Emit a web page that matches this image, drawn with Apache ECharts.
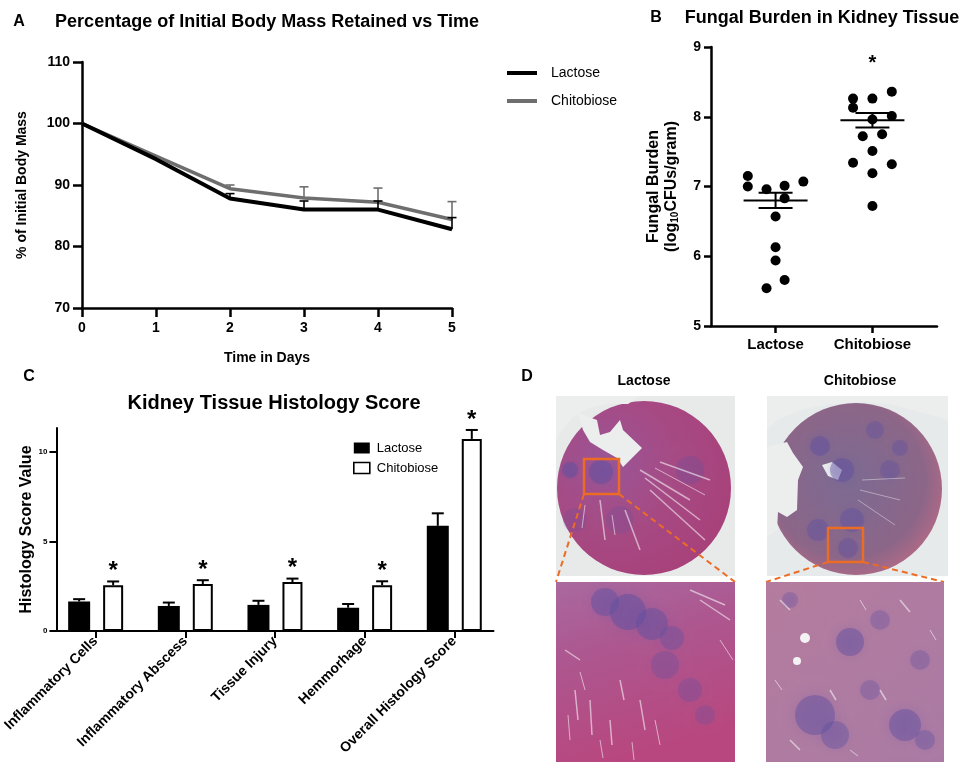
<!DOCTYPE html>
<html><head><meta charset="utf-8">
<script src="https://cdn.jsdelivr.net/npm/echarts@6/dist/echarts.min.js"></script>
<style>html,body{margin:0;padding:0;background:#fff}#c{width:968px;height:763px}</style>
</head><body><div id="c"></div>
<script>
const FONT = '"Liberation Sans", Arial, Helvetica, sans-serif';

// ---- Panel A: body mass over time ----
const days = [0, 1, 2, 3, 4, 5];
const massLactose = [100, 94.2, 87.8, 86.0, 86.0, 82.8];
const massChitobiose = [100, 94.7, 89.4, 87.9, 87.2, 84.4];
const massLactoseUpper = [null, null, 88.6, 87.4, 87.4, 84.7];
const massChitobioseUpper = [null, null, 90.0, 89.7, 89.5, 87.3];

// ---- Panel B: fungal burden ----
const burdenGroups = ['Lactose', 'Chitobiose'];
const burdenGroupPos = [2, 5];
const burdenLactose = [7.15, 7.00, 6.96, 7.01, 7.07, 6.83, 6.57, 6.13, 5.94, 5.66, 5.54];
const burdenLactoseJitter = [-0.86, -0.86, -0.28, 0.28, 0.86, 0.28, 0, 0, 0, 0.28, -0.28];
const burdenChitobiose = [8.26, 8.26, 8.36, 8.13, 7.96, 8.01, 7.72, 7.75, 7.51, 7.34, 7.32, 7.19, 6.72];
const burdenChitobioseJitter = [-0.6, 0, 0.6, -0.6, 0, 0.6, -0.3, 0.3, 0, -0.6, 0.6, 0, 0];
const burdenMean = [6.80, 7.95];
const burdenSem = [0.11, 0.105];
const burdenStarY = [8.82];

// ---- Panel C: histology score ----
const histCats = ['Inflammatory Cells', 'Inflammatory Abscess', 'Tissue Injury', 'Hemmorhage', 'Overall Histology Score'];
const histPos = [1, 2, 3, 4, 5];
const histLactose = [1.65, 1.40, 1.46, 1.30, 5.88];
const histLactoseErr = [1.78, 1.59, 1.69, 1.51, 6.58];
const histChitobiose = [2.56, 2.63, 2.74, 2.56, 10.74];
const histChitobioseErr = [2.77, 2.84, 2.93, 2.78, 11.24];
const histSig = [0, 0, 0, 0, 0];
const histChitoSig = [1, 1, 1, 1, 1];
const histTicks = [0, 5, 10];

const bold = (s) => ({ color: '#000', fontWeight: 'bold', fontSize: s, fontFamily: FONT });

function upperErr(name, xs, tops, vals, color, xi) {
  const data = [];
  xs.forEach((x, i) => { if (tops[i] != null) data.push([x, vals[i], tops[i]]); });
  return {
    type: 'custom', name, xAxisIndex: xi, yAxisIndex: xi, z: 5, data,
    renderItem: (p, api) => {
      const a = api.coord([api.value(0), api.value(1)]);
      const b = api.coord([api.value(0), api.value(2)]);
      return { type: 'group', children: [
        { type: 'line', shape: { x1: a[0], y1: a[1], x2: b[0], y2: b[1] }, style: { stroke: color, lineWidth: 1.6 } },
        { type: 'line', shape: { x1: b[0] - 4.5, y1: b[1], x2: b[0] + 4.5, y2: b[1] }, style: { stroke: color, lineWidth: 1.6 } }
      ]};
    }
  };
}

function histErr(name, vals, tops, sig, dx) {
  return {
    type: 'custom', name, xAxisIndex: 2, yAxisIndex: 2, z: 5,
    data: histPos.map((x, i) => [x, vals[i], tops[i], sig[i]]),
    renderItem: (p, api) => {
      const a = api.coord([api.value(0), api.value(1)]);
      const b = api.coord([api.value(0), api.value(2)]);
      const cx = a[0] + dx;
      const ch = [
        { type: 'line', shape: { x1: cx, y1: a[1], x2: cx, y2: b[1] }, style: { stroke: '#000', lineWidth: 2 } },
        { type: 'line', shape: { x1: cx - 6, y1: b[1], x2: cx + 6, y2: b[1] }, style: { stroke: '#000', lineWidth: 2 } }
      ];
      if (api.value(3) > 0) {
        ch.push({ type: 'text', style: { text: '*', x: cx, y: b[1] - 10, font: 'bold 24px ' + FONT, fill: '#000',
          textAlign: 'center', textVerticalAlign: 'middle', align: 'center', verticalAlign: 'middle' } });
      }
      return { type: 'group', children: ch };
    }
  };
}

function txt(t, x, y, size, weight, align) {
  return { type: 'text', silent: true, style: { text: t, x, y, font: (weight || 'bold') + ' ' + size + 'px ' + FONT, fill: '#000',
    textAlign: align || 'center', textVerticalAlign: 'middle', align: align || 'center', verticalAlign: 'middle' } };
}

// ---- Panel D decorative micrograph approximations ----
const ORANGE = '#ec6c24';
const purple = (a) => 'rgba(95,80,160,' + a + ')';
function blob(cx, cy, r, a) {
  return { type: 'circle', silent: true, shape: { cx, cy, r }, style: { fill: purple(a), shadowBlur: r * 0.8, shadowColor: purple(a) } };
}
function hole(points) {
  return { type: 'polygon', silent: true, shape: { points }, style: { fill: '#eceeee' } };
}
function streak(x1, y1, x2, y2, w, a) {
  return { type: 'line', silent: true, shape: { x1, y1, x2, y2 }, style: { stroke: 'rgba(255,255,255,' + (a || 0.55) + ')', lineWidth: w || 1.5 } };
}
const dGraphics = [
  // top-left: lactose kidney
  { type: 'rect', silent: true, shape: { x: 556, y: 396, width: 179, height: 180 }, style: { fill: '#e8eaea' } },
  { type: 'circle', silent: true, shape: { cx: 644, cy: 488, r: 87 },
    style: { fill: { type: 'radial', x: 0.3, y: 0.35, r: 0.75, colorStops: [{ offset: 0, color: '#9a5596' }, { offset: 0.5, color: '#a64a84' }, { offset: 1, color: '#a8417a' }] } } },
  hole([[578,413],[597,420],[600,435],[610,432],[620,420],[623,430],[642,448],[633,457],[623,467],[617,458],[603,450],[590,442],[583,430]]),
  hole([[556,396],[640,396],[628,404],[606,404],[588,408],[572,418],[562,430],[556,440]]),
  blob(570, 470, 8, 0.5), blob(601, 472, 12, 0.5), blob(690, 470, 14, 0.25), blob(620, 520, 14, 0.2), blob(575, 520, 12, 0.2),
  streak(640, 470, 690, 500), streak(645, 478, 700, 520), streak(650, 490, 705, 540), streak(600, 500, 605, 540), streak(625, 510, 640, 550),
  streak(660, 462, 710, 480), streak(655, 468, 705, 495, 1), streak(612, 515, 615, 535, 1), streak(585, 505, 582, 528, 1),
  { type: 'rect', silent: true, shape: { x: 584, y: 459, width: 35, height: 35 }, style: { fill: 'none', stroke: ORANGE, lineWidth: 2.5 } },
  // top-right: chitobiose kidney
  { type: 'rect', silent: true, shape: { x: 767, y: 396, width: 181, height: 180 }, style: { fill: '#e7eaea' } },
  { type: 'circle', silent: true, shape: { cx: 856, cy: 489, r: 86 },
    style: { fill: { type: 'radial', x: 0.45, y: 0.45, r: 0.6, colorStops: [{ offset: 0, color: '#7c6a92' }, { offset: 0.75, color: '#8c6688' }, { offset: 1, color: '#b46a86' }] } } },
  hole([[767,396],[948,396],[948,420],[920,412],[890,404],[860,402],[830,404],[800,410],[778,420],[767,430]]),
  hole([[767,447],[787,442],[793,453],[803,467],[798,480],[797,510],[787,517],[778,512],[777,530],[767,537]]),
  hole([[822,465],[832,462],[842,470],[838,480],[828,476]]),
  blob(820, 446, 10, 0.45), blob(842, 470, 12, 0.45), blob(818, 530, 11, 0.4), blob(852, 520, 12, 0.4),
  blob(890, 470, 10, 0.35), blob(900, 448, 8, 0.35), blob(848, 548, 10, 0.4), blob(875, 430, 9, 0.35),
  streak(860, 490, 900, 500, 1, 0.4), streak(862, 480, 905, 478, 1, 0.4), streak(858, 500, 895, 525, 1, 0.4),
  { type: 'rect', silent: true, shape: { x: 828, y: 528, width: 35, height: 34 }, style: { fill: 'none', stroke: ORANGE, lineWidth: 2.5 } },
  // zoom lines
  { type: 'line', silent: true, shape: { x1: 584, y1: 494, x2: 556, y2: 582 }, style: { stroke: ORANGE, lineWidth: 2, lineDash: [6, 4] } },
  { type: 'line', silent: true, shape: { x1: 619, y1: 494, x2: 735, y2: 582 }, style: { stroke: ORANGE, lineWidth: 2, lineDash: [6, 4] } },
  { type: 'line', silent: true, shape: { x1: 828, y1: 562, x2: 766, y2: 582 }, style: { stroke: ORANGE, lineWidth: 2, lineDash: [6, 4] } },
  { type: 'line', silent: true, shape: { x1: 863, y1: 562, x2: 944, y2: 582 }, style: { stroke: ORANGE, lineWidth: 2, lineDash: [6, 4] } },
  // bottom-left zoom
  { type: 'rect', silent: true, shape: { x: 556, y: 582, width: 179, height: 180 },
    style: { fill: { type: 'linear', x: 0, y: 0, x2: 0.3, y2: 1, colorStops: [{ offset: 0, color: '#a9699f' }, { offset: 0.4, color: '#ad5790' }, { offset: 1, color: '#b8477f' }] } } },
  blob(605, 602, 14, 0.45), blob(628, 612, 18, 0.5), blob(652, 624, 16, 0.45), blob(672, 638, 12, 0.35),
  blob(665, 665, 14, 0.3), blob(690, 690, 12, 0.28), blob(705, 715, 10, 0.25),
  streak(575, 690, 578, 720), streak(590, 700, 592, 735), streak(610, 720, 612, 745), streak(640, 700, 645, 730),
  streak(565, 650, 580, 660), streak(620, 680, 624, 700), streak(700, 600, 730, 620), streak(690, 590, 725, 605),
  streak(568, 715, 570, 740, 1), streak(600, 740, 603, 758, 1), streak(632, 742, 634, 760, 1), streak(655, 720, 660, 745, 1),
  streak(580, 672, 585, 690, 1), streak(720, 640, 733, 660, 1),
  // bottom-right zoom
  { type: 'rect', silent: true, shape: { x: 766, y: 582, width: 178, height: 180 },
    style: { fill: { type: 'linear', x: 0, y: 0, x2: 1, y2: 1, colorStops: [{ offset: 0, color: '#b47c9e' }, { offset: 1, color: '#aa7aa4' }] } } },
  blob(850, 642, 14, 0.45), blob(815, 715, 20, 0.45), blob(835, 735, 14, 0.4), blob(905, 725, 16, 0.45),
  blob(925, 740, 10, 0.35), blob(880, 620, 10, 0.3), blob(920, 660, 10, 0.3), blob(790, 600, 8, 0.3), blob(870, 690, 10, 0.3),
  { type: 'circle', silent: true, shape: { cx: 805, cy: 638, r: 5 }, style: { fill: '#f4f2f4' } },
  { type: 'circle', silent: true, shape: { cx: 797, cy: 661, r: 4 }, style: { fill: '#f4f2f4' } },
  streak(780, 600, 790, 610), streak(830, 690, 836, 700), streak(900, 600, 910, 612), streak(790, 740, 800, 750), streak(880, 690, 886, 700),
  streak(775, 680, 782, 690, 1), streak(860, 600, 866, 610, 1), streak(930, 630, 936, 640, 1), streak(850, 750, 858, 756, 1)
];

const titles = [
  txt('A', 19, 22, 16), txt('Percentage of Initial Body Mass Retained vs Time', 267, 22, 18),
  txt('B', 656, 18, 16), txt('Fungal Burden in Kidney Tissue', 822, 18, 18),
  txt('C', 29, 377, 16), txt('Kidney Tissue Histology Score', 274, 403, 20),
  txt('D', 527, 377, 16), txt('Lactose', 644, 381, 14), txt('Chitobiose', 860, 381, 14)
];

const axisBase = (w) => ({
  axisLine: { show: true, onZero: false, lineStyle: { color: '#000', width: w } },
  splitLine: { show: false }
});

const LINE_ICON = 'path://M0,0L0.01,0M0,5L30,5L30,9L0,9ZM0,14L0.01,14';

const option = {
  animation: false,
  textStyle: { fontFamily: FONT },
  grid: [
    { left: 82, top: 62, width: 370, height: 246 },
    { left: 711, top: 47, width: 226, height: 279 },
    { left: 54, top: 428, width: 439.5, height: 203 }
  ],
  xAxis: [
    Object.assign(axisBase(2.5), { gridIndex: 0, type: 'value', min: 0, max: 5, interval: 1,
      axisTick: { show: true, length: 9, lineStyle: { color: '#000', width: 2.5 } },
      axisLabel: Object.assign(bold(14), { margin: 13 }),
      name: 'Time in Days', nameLocation: 'middle', nameGap: 43, nameTextStyle: bold(14) }),
    Object.assign(axisBase(2.5), { gridIndex: 1, type: 'value', min: 0, max: 7,
      axisTick: { show: true, length: 7, customValues: burdenGroupPos, lineStyle: { color: '#000', width: 2.5 } },
      axisLabel: Object.assign(bold(15), { margin: 11, customValues: burdenGroupPos,
        formatter: (v) => burdenGroups[burdenGroupPos.indexOf(v)] || '' }) }),
    Object.assign(axisBase(2), { gridIndex: 2, type: 'value', min: 0.5626, max: 5.4374,
      axisTick: { show: true, length: 7, customValues: histPos, lineStyle: { color: '#000', width: 2 } },
      axisLabel: Object.assign(bold(14), { margin: 8, rotate: 45, customValues: histPos,
        formatter: (v) => histCats[histPos.indexOf(v)] || '' }) })
  ],
  yAxis: [
    Object.assign(axisBase(2.5), { gridIndex: 0, type: 'value', min: 70, max: 110, interval: 10,
      axisTick: { show: true, length: 9, lineStyle: { color: '#000', width: 2.5 } },
      axisLabel: Object.assign(bold(14), { margin: 12 }),
      name: '% of Initial Body Mass', nameLocation: 'middle', nameGap: 53, nameTextStyle: bold(14) }),
    Object.assign(axisBase(2.5), { gridIndex: 1, type: 'value', min: 5, max: 9, interval: 1,
      axisTick: { show: true, length: 7, lineStyle: { color: '#000', width: 2.5 } },
      axisLabel: Object.assign(bold(14), { margin: 10 }),
      name: '{a|Fungal Burden}\n{a|(log}{s|10}{a|CFUs/gram)}', nameLocation: 'middle', nameGap: 30,
      nameTextStyle: { rich: {
        a: { fontSize: 16, fontWeight: 'bold', color: '#000', fontFamily: FONT, lineHeight: 18 },
        s: { fontSize: 10, fontWeight: 'bold', color: '#000', fontFamily: FONT, lineHeight: 18, padding: [6, 0, 0, 0] } } } }),
    Object.assign(axisBase(2), { gridIndex: 2, type: 'value', min: 0, max: 11.35,
      axisTick: { show: true, length: 7, customValues: histTicks, lineStyle: { color: '#000', width: 2 } },
      axisLabel: Object.assign(bold(8), { margin: 9, customValues: histTicks }),
      name: 'Histology Score Value', nameLocation: 'middle', nameGap: 20, nameTextStyle: bold(16) })
  ],
  legend: [
    { left: 507, top: 66, padding: 0, orient: 'vertical', itemWidth: 30, itemHeight: 14, itemGap: 14, selectedMode: false,
      icon: LINE_ICON, itemStyle: { borderWidth: 0 },
      data: [{ name: 'Lactose', icon: LINE_ICON, itemStyle: { color: '#000', borderWidth: 0 } },
             { name: 'Chitobiose', icon: LINE_ICON, itemStyle: { color: '#6e6e6e', borderWidth: 0 } }],
      textStyle: { fontSize: 14, color: '#000', fontFamily: FONT, padding: [0, 0, 0, 9] } },
    { left: 353, top: 441.5, padding: 0, orient: 'vertical', itemWidth: 16, itemHeight: 11, itemGap: 7, selectedMode: false, icon: 'rect',
      data: [{ name: 'C-Lactose', itemStyle: { color: '#000' } },
             { name: 'C-Chitobiose', itemStyle: { color: '#fff', borderColor: '#000', borderWidth: 1.6 } }],
      formatter: (n) => n.replace('C-', ''),
      textStyle: { fontSize: 13, color: '#000', fontFamily: FONT, padding: [0, 0, 0, 2] } }
  ],
  graphic: { elements: titles.concat(dGraphics) },
  series: [
    { type: 'line', name: 'Lactose', xAxisIndex: 0, yAxisIndex: 0, z: 4, symbol: 'none',
      data: days.map((d, i) => [d, massLactose[i]]), lineStyle: { color: '#000', width: 4 }, itemStyle: { color: '#000' } },
    { type: 'line', name: 'Chitobiose', xAxisIndex: 0, yAxisIndex: 0, z: 3, symbol: 'none',
      data: days.map((d, i) => [d, massChitobiose[i]]), lineStyle: { color: '#6e6e6e', width: 3.5 }, itemStyle: { color: '#6e6e6e' } },
    upperErr('A-errC', days, massChitobioseUpper, massChitobiose, '#6e6e6e', 0),
    upperErr('A-errL', days, massLactoseUpper, massLactose, '#000', 0),

    { type: 'scatter', name: 'B-Lactose', xAxisIndex: 1, yAxisIndex: 1, symbolSize: 10, itemStyle: { color: '#000', opacity: 1 },
      data: burdenLactose.map((v, i) => [burdenGroupPos[0] + burdenLactoseJitter[i], v]) },
    { type: 'scatter', name: 'B-Chitobiose', xAxisIndex: 1, yAxisIndex: 1, symbolSize: 10, itemStyle: { color: '#000', opacity: 1 },
      data: burdenChitobiose.map((v, i) => [burdenGroupPos[1] + burdenChitobioseJitter[i], v]) },
    { type: 'custom', name: 'B-mean', xAxisIndex: 1, yAxisIndex: 1, z: 6,
      data: burdenMean.map((m, i) => [burdenGroupPos[i], m, burdenSem[i]]),
      renderItem: (p, api) => {
        const x = api.value(0), m = api.value(1), s = api.value(2);
        const c = api.coord([x, m]), hi = api.coord([x, m + s]), lo = api.coord([x, m - s]);
        const st = { stroke: '#000', lineWidth: 2 };
        return { type: 'group', children: [
          { type: 'line', shape: { x1: c[0] - 32, y1: c[1], x2: c[0] + 32, y2: c[1] }, style: st },
          { type: 'line', shape: { x1: c[0], y1: hi[1], x2: c[0], y2: lo[1] }, style: st },
          { type: 'line', shape: { x1: c[0] - 17, y1: hi[1], x2: c[0] + 17, y2: hi[1] }, style: st },
          { type: 'line', shape: { x1: c[0] - 17, y1: lo[1], x2: c[0] + 17, y2: lo[1] }, style: st }
        ]};
      } },
    { type: 'custom', name: 'B-star', xAxisIndex: 1, yAxisIndex: 1, z: 6,
      data: burdenStarY.map((y) => [burdenGroupPos[1], y]),
      renderItem: (p, api) => {
        const c = api.coord([api.value(0), api.value(1)]);
        return { type: 'text', style: { text: '*', x: c[0], y: c[1] + 4, font: 'bold 20px ' + FONT, fill: '#000',
          textAlign: 'center', textVerticalAlign: 'middle', align: 'center', verticalAlign: 'middle' } };
      } },

    { type: 'bar', name: 'C-Lactose', xAxisIndex: 2, yAxisIndex: 2, barWidth: 22, barGap: '59%',
      data: histPos.map((x, i) => [x, histLactose[i]]), itemStyle: { color: '#000' } },
    { type: 'bar', name: 'C-Chitobiose', xAxisIndex: 2, yAxisIndex: 2, barWidth: 20, barGap: '59%',
      data: histPos.map((x, i) => [x, histChitobiose[i]]), itemStyle: { color: '#fff', borderColor: '#000', borderWidth: 2 } },
    histErr('C-errL', histLactose, histLactoseErr, histSig, -16.5),
    histErr('C-errC', histChitobiose, histChitobioseErr, histChitoSig, 17.5)
  ]
};

const chart = echarts.init(document.getElementById('c'), null, { renderer: 'canvas' });
chart.setOption(option);
</script>
</body></html>
